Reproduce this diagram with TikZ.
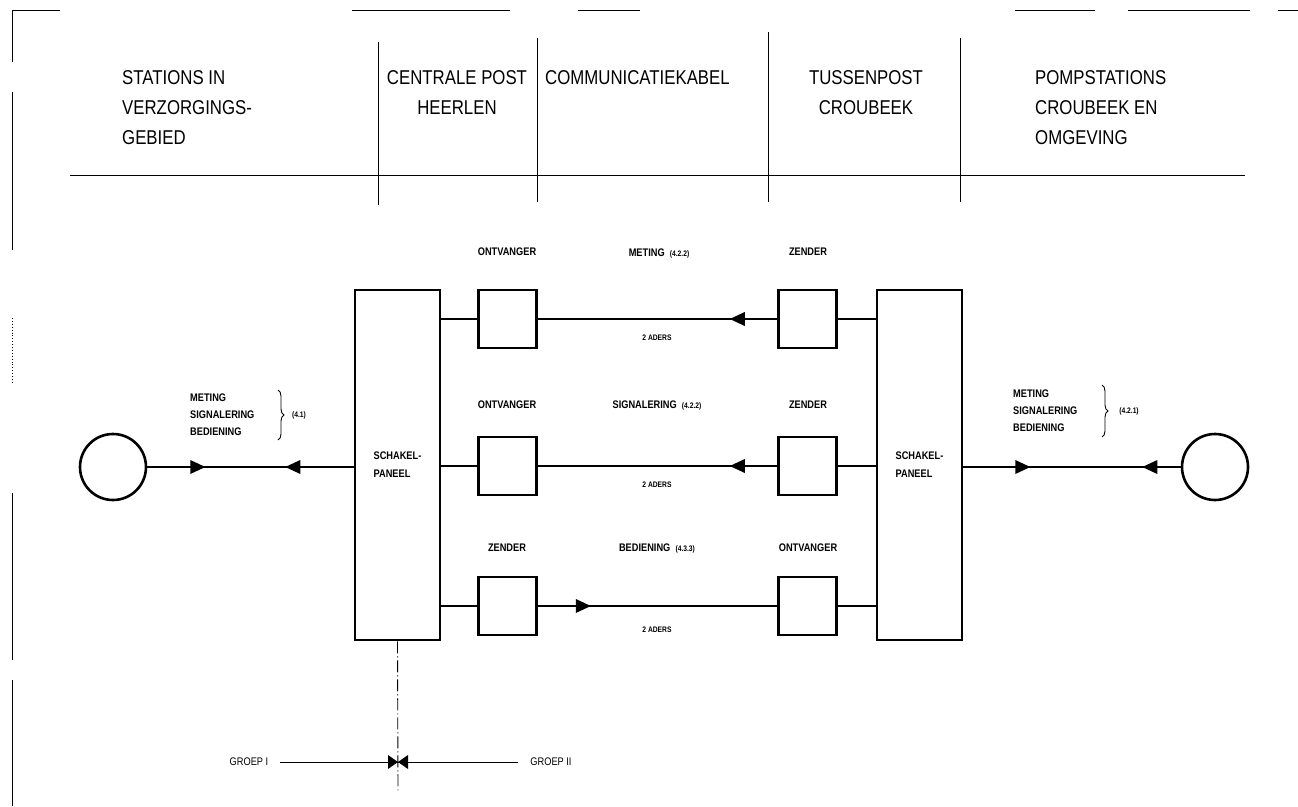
\documentclass[tikz,border=0pt]{standalone}
\usepackage{fontspec}
\setmainfont[FakeStretch=0.84]{Liberation Sans}
\usetikzlibrary{decorations.markings,decorations.pathreplacing}
\tikzset{
  thinline/.style={line width=0.9pt},
  main/.style={line width=2.6pt},
  hdr/.style={font=\fontsize{20}{30}\selectfont, inner sep=0pt},
  lbl/.style={font=\bfseries\fontsize{11}{17}\selectfont, inner sep=0pt},
  tinytxt/.style={font=\bfseries\fontsize{8}{9}\selectfont, inner sep=0pt},
  panelbox/.style={draw, main, minimum width=85pt, minimum height=350pt, inner sep=0pt, align=left, font=\bfseries\fontsize{11}{18}\selectfont},
  unitbox/.style={draw, main, minimum size=58pt, inner sep=0pt},
  station/.style={circle, draw, main, minimum size=66pt, inner sep=0pt},
  tipL/.style={postaction={decorate,decoration={markings,mark=at position #1 with {\fill (0,0)--(15pt,7pt)--(15pt,-7pt)--cycle;}}}},
  tipR/.style={postaction={decorate,decoration={markings,mark=at position #1 with {\fill (0,0)--(-15pt,7pt)--(-15pt,-7pt)--cycle;}}}},
  groep/.style={font=\fontsize{11}{12}\selectfont, inner ysep=0pt, inner xsep=12pt}
}
\newcommand{\refno}[1]{{\bfseries\fontsize{8}{9}\selectfont #1}}
\begin{document}
\begin{tikzpicture}[x=1pt,y=-1pt]
\useasboundingbox (0,0) rectangle (1298,806);
\fill[white] (0,0) rectangle (1298,806);

% frame fragments
\draw[thinline] (12,10) -- (60,10);
\draw[thinline] (352,10) -- (510,10);
\draw[thinline] (578,10) -- (640,10);
\draw[thinline] (1015,10) -- (1095,10);
\draw[thinline] (1128,10) -- (1250,10);
\draw[thinline] (1278,10) -- (1298,10);
\draw[thinline] (12,10) -- (12,62);
\draw[thinline] (12,92) -- (12,250);
\draw[thinline, dotted] (12,318) -- (12,382);
\draw[thinline] (12,493) -- (12,660);
\draw[thinline] (12,680) -- (12,806);

% header grid
\draw[thinline] (70,175) -- (1245,175);
\draw[thinline] (378,42) -- (378,205);
\draw[thinline] (537,38) -- (537,202);
\draw[thinline] (768,32) -- (768,202);
\draw[thinline] (960,38) -- (960,202);

% header texts
\node[hdr, anchor=north west, align=left] (h1) at (122,70) {STATIONS IN\\VERZORGINGS-\\GEBIED};
\node[hdr, anchor=north, align=center] (h2) at (457,70) {CENTRALE POST\\HEERLEN};
\node[hdr, anchor=north west] (h3) at (545,70) {COMMUNICATIEKABEL};
\node[hdr, anchor=north, align=center] (h4) at (866,70) {TUSSENPOST\\CROUBEEK};
\node[hdr, anchor=north west, align=left] (h5) at (1035,70) {POMPSTATIONS\\CROUBEEK EN\\OMGEVING};

% main nodes
\node[station] (sl) at (113,467) {};
\node[panelbox] (pl) at (397.5,465) {SCHAKEL-\\PANEEL};
\node[panelbox] (pr) at (919.5,465) {SCHAKEL-\\PANEEL};
\node[station] (sr) at (1215,467) {};

\node[unitbox] (o1) at (507.5,319) {};
\node[unitbox] (z1) at (807.5,319) {};
\node[unitbox] (o2) at (507.5,466) {};
\node[unitbox] (z2) at (807.5,466) {};
\node[unitbox] (z3) at (507.5,606) {};
\node[unitbox] (o3) at (807.5,606) {};

% connectors
\draw[main, tipR=58pt, tipL=138pt] (sl.east) -- (pl.west |- sl.east);
\draw[main, tipR=67pt, tipL=179pt] (pr.east |- sr.west) -- (sr.west);

\draw[main] (pl.east |- o1.west) -- (o1.west);
\draw[main, tipL=192pt] (o1.east) -- (z1.west);
\draw[main] (z1.east) -- (pr.west |- z1.east);

\draw[main] (pl.east |- o2.west) -- (o2.west);
\draw[main, tipL=192pt] (o2.east) -- (z2.west);
\draw[main] (z2.east) -- (pr.west |- z2.east);

\draw[main] (pl.east |- z3.west) -- (z3.west);
\draw[main, tipR=53pt] (z3.east) -- (o3.west);
\draw[main] (o3.east) -- (pr.west |- o3.east);

% row labels
\node[lbl] (lo1) at (507,252) {ONTVANGER};
\node[lbl] (lm1) at (659,253) {METING\ \ \refno{(4.2.2)}};
\node[lbl] (lz1) at (808,252) {ZENDER};
\node[tinytxt] (a1) at (657,338) {2 ADERS};

\node[lbl] (lo2) at (507,405) {ONTVANGER};
\node[lbl] (lm2) at (657,405) {SIGNALERING\ \ \refno{(4.2.2)}};
\node[lbl] (lz2) at (808,405) {ZENDER};
\node[tinytxt] (a2) at (657,485) {2 ADERS};

\node[lbl] (lz3) at (507,548) {ZENDER};
\node[lbl] (lm3) at (657,548) {BEDIENING\ \ \refno{(4.3.3)}};
\node[lbl] (lo3) at (808,548) {ONTVANGER};
\node[tinytxt] (a3) at (657,630) {2 ADERS};

% side groups
\node[lbl, anchor=west, align=left] (gl) at (190,415) {METING\\SIGNALERING\\BEDIENING};
\draw[thinline, decorate, decoration={brace, amplitude=6pt}] (278,390) -- (278,440);
\node[tinytxt] (rl) at (299,415) {(4.1)};

\node[lbl, anchor=west, align=left] (gr) at (1013,411) {METING\\SIGNALERING\\BEDIENING};
\draw[thinline, decorate, decoration={brace, amplitude=6pt}] (1102,385) -- (1102,437);
\node[tinytxt] (rr) at (1129,411) {(4.2.1)};

% groep split
\coordinate (bt) at (398,762);
\coordinate (bend) at (398,792);
\draw[thinline, dash pattern=on 12pt off 3pt on 1pt off 3pt] (pl.south) -- (bend);
\node[groep] (g1) at (249,762) {GROEP I};
\node[groep] (g2) at (551,762) {GROEP II};
\draw[thinline] (g1.east) -- (bt) -- (g2.west);
\fill (bt) -- ++(-10,-7) -- ++(0,14) -- cycle;
\fill (bt) -- ++(10,-7) -- ++(0,14) -- cycle;
\end{tikzpicture}
\end{document}
